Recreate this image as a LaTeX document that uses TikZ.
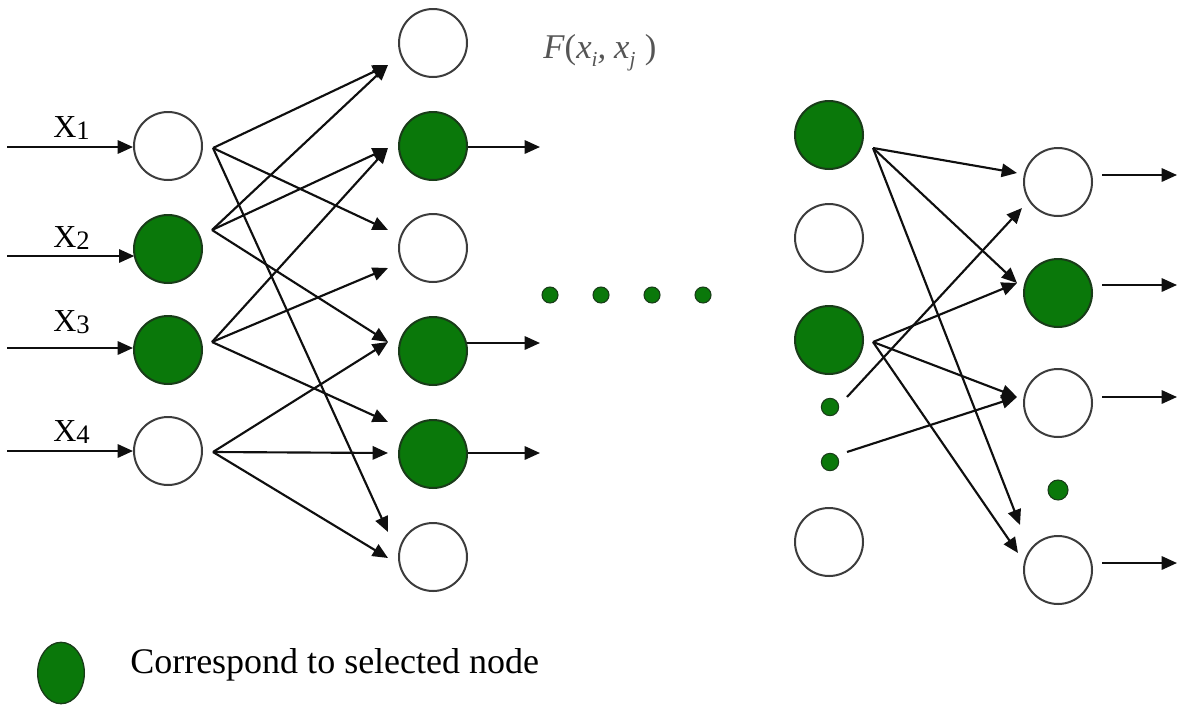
\documentclass[tikz,border=0pt]{standalone}
\usepackage{fontspec}
\setmainfont{Liberation Serif}
\usetikzlibrary{arrows.meta,shapes.geometric}
\definecolor{selgreen}{RGB}{10,120,10}
\definecolor{seledge}{RGB}{25,60,25}
\definecolor{ringgray}{RGB}{60,60,60}
\definecolor{inkblack}{RGB}{15,15,15}
\definecolor{labelgray}{RGB}{85,85,85}
\newcommand\lowsub[1]{\raisebox{-2pt}{\fontsize{20}{20}\selectfont #1}}
\newcommand\fsub[1]{\raisebox{-6pt}{\fontsize{16}{16}\selectfont\itshape #1}}
\begin{document}
\begin{tikzpicture}[x=0.75pt,y=-0.75pt,
  wn/.style={circle,draw=ringgray,line width=1.5pt,fill=white,minimum size=51pt,inner sep=0pt},
  gn/.style={wn,draw=seledge,fill=selgreen},
  dotn/.style={circle,fill=selgreen,draw=seledge,line width=0.8pt,inner sep=0pt,minimum size=#1},
  conn/.style={draw=inkblack,line width=1.6pt,-{Triangle[length=11.5pt,width=10pt]}},
  xlab/.style={anchor=base west,inner sep=0pt,font=\fontsize{24}{24}\selectfont}]
\useasboundingbox (0,0) rectangle (1180,707);

% input column
\node[wn] (a1) at (168,146) {};
\node[gn] (a2) at (168,249) {};
\node[gn] (a3) at (168,350) {};
\node[wn] (a4) at (168,451) {};

\coordinate (in1) at (7,147);
\coordinate (in2) at (7,256);
\coordinate (in3) at (7,348);
\coordinate (in4) at (7,451);
\draw[conn] (in1) -- (in1 -| a1.west);
\draw[conn] (in2) -- ([xshift=1pt]in2 -| a2.west);
\draw[conn] (in3) -- (in3 -| a3.west);
\draw[conn] (in4) -- (in4 -| a4.west);

\node[xlab] (lx1) at (53,137) {X\lowsub{1}};
\node[xlab] (lx2) at (53,247) {X\lowsub{2}};
\node[xlab] (lx3) at (53,331) {X\lowsub{3}};
\node[xlab] (lx4) at (53,441) {X\lowsub{4}};

% second column
\node[wn] (b1) at (433,43) {};
\node[gn] (b2) at (433,146) {};
\node[wn] (b3) at (433,248) {};
\node[gn] (b4) at (433,351) {};
\node[gn] (b5) at (433,454) {};
\node[wn] (b6) at (433,557) {};

% sources and targets of the fan
\coordinate (s1) at (213,148);
\coordinate (s2) at (212,230);
\coordinate (s3) at (212,342);
\coordinate (s4) at (213,452);
\coordinate (tb1) at (388,65);
\coordinate (tb2) at (388,148);
\coordinate (tb3a) at (388,230);
\coordinate (tb3b) at (388,268);
\coordinate (tb4) at (388,342);
\coordinate (tb5a) at (388,422);
\coordinate (tb5b) at (388,453);
\coordinate (tb6a) at (388,532);
\coordinate (tb6b) at (388,558);

\draw[conn] (s1) -- (tb1);
\draw[conn] (s1) -- (tb3a);
\draw[conn] (s1) -- (tb6a);
\draw[conn] (s2) -- (tb1);
\draw[conn] (s2) -- (tb2);
\draw[conn] (s2) -- (tb4);
\draw[conn] (s3) -- (tb2);
\draw[conn] (s3) -- (tb3b);
\draw[conn] (s3) -- (tb5a);
\draw[conn] (s4) -- (tb4);
\draw[conn] (s4) -- (tb5b);
\draw[conn] (s4) -- (tb6b);

% outputs of second column
\coordinate (ob2) at (540,147);
\coordinate (ob4) at (540,343);
\coordinate (ob5) at (540,453);
\draw[conn] (ob2 -| b2.east) -- (ob2);
\draw[conn] ([xshift=-1pt]ob4 -| b4.east) -- (ob4);
\draw[conn] (ob5 -| b5.east) -- (ob5);

% label
\node[anchor=base west,inner sep=0pt,text=labelgray] (flab) at (543,58)
  {\fontsize{26}{26}\selectfont\itshape F\textup{(}x\fsub{i},\hspace{6pt}x\fsub{j}\hspace{7pt}\textup{)}};

% ellipsis dots
\node[dotn=12pt] (m1) at (550,295) {};
\node[dotn=12pt] (m2) at (601,295) {};
\node[dotn=12pt] (m3) at (652,295) {};
\node[dotn=12pt] (m4) at (703,295) {};

% right part, left column
\node[gn] (c1) at (829,135) {};
\node[wn] (c2) at (829,238) {};
\node[gn] (c3) at (829,340) {};
\node[dotn=13pt] (cd1) at (830,407) {};
\node[dotn=13pt] (cd2) at (830,462) {};
\node[wn] (c4) at (829,542) {};

% right part, output column
\node[wn] (d1) at (1058,182) {};
\node[gn] (d2) at (1058,293) {};
\node[wn] (d3) at (1058,403) {};
\node[dotn=15pt] (dd) at (1058,490) {};
\node[wn] (d4) at (1058,570) {};

\coordinate (sc1) at (873,148);
\coordinate (sc3) at (873,342);
\coordinate (sd1) at (847,397);
\coordinate (sd2) at (847,452);
\coordinate (td1a) at (1017,173);
\coordinate (td1b) at (1022,208);
\coordinate (td2) at (1017,283);
\coordinate (td3) at (1017,397);
\coordinate (td4a) at (1020,525);
\coordinate (td4b) at (1018,553);

\draw[conn] (sc1) -- (td1a);
\draw[conn] (sc1) -- (td2);
\draw[conn] (sc1) -- (td4a);
\draw[conn] (sc3) -- (td2);
\draw[conn] (sc3) -- (td3);
\draw[conn] (sc3) -- (td4b);
\draw[conn] (sd1) -- (td1b);
\draw[conn] (sd2) -- (td3);

% outputs of right column
\coordinate (od1s) at (1102,175);
\coordinate (od1e) at (1177,175);
\coordinate (od2s) at (1102,285);
\coordinate (od2e) at (1177,285);
\coordinate (od3s) at (1102,397);
\coordinate (od3e) at (1177,397);
\coordinate (od4s) at (1102,563);
\coordinate (od4e) at (1177,563);
\draw[conn] (od1s) -- (od1e);
\draw[conn] (od2s) -- (od2e);
\draw[conn] (od3s) -- (od3e);
\draw[conn] (od4s) -- (od4e);

% legend
\node[ellipse,draw=seledge,fill=selgreen,line width=1pt,minimum width=35pt,minimum height=46pt,inner sep=0pt] (legmark) at (61,673) {};
\node[anchor=base west,inner sep=0pt,font=\fontsize{27}{27}\selectfont] (legtext) at (130,673) {Correspond to selected node};
\end{tikzpicture}
\end{document}
